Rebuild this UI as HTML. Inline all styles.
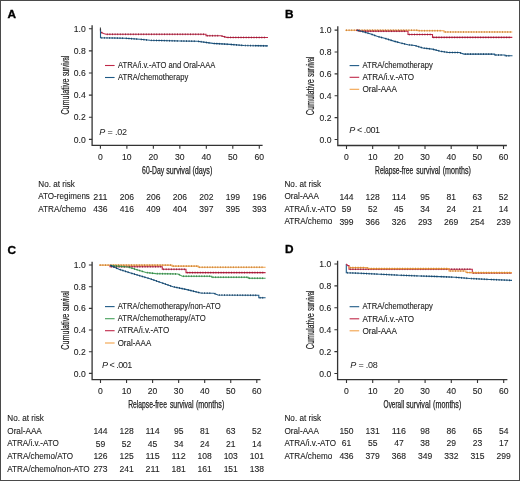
<!DOCTYPE html>
<html><head><meta charset="utf-8"><style>
html,body{margin:0;padding:0;background:#fff;}
#w{position:relative;width:520px;height:481px;overflow:hidden;background:#fff;}
svg{position:absolute;left:0;top:0;font-family:"Liberation Sans", sans-serif;will-change:transform;}
</style></head><body><div id="w">
<svg width="520" height="481" viewBox="0 0 520 481">
<rect x="0.5" y="0.5" width="519" height="480" fill="#fff" stroke="#4a4a4a" stroke-width="1"/>
<text x="7.6" y="17.6" font-size="11.8" font-weight="bold" fill="#000" stroke="#000" stroke-width="0.35">A</text>
<path d="M92.1,25.2 V145.4 H262.6" fill="none" stroke="#333" stroke-width="1.3"/>
<text x="85.8" y="142.50" font-size="8.6" text-anchor="end" fill="#222" stroke="#222" stroke-width="0.1">0.0</text>
<text x="85.8" y="120.37" font-size="8.6" text-anchor="end" fill="#222" stroke="#222" stroke-width="0.1">0.2</text>
<text x="85.8" y="98.24" font-size="8.6" text-anchor="end" fill="#222" stroke="#222" stroke-width="0.1">0.4</text>
<text x="85.8" y="76.11" font-size="8.6" text-anchor="end" fill="#222" stroke="#222" stroke-width="0.1">0.6</text>
<text x="85.8" y="53.98" font-size="8.6" text-anchor="end" fill="#222" stroke="#222" stroke-width="0.1">0.8</text>
<text x="85.8" y="31.85" font-size="8.6" text-anchor="end" fill="#222" stroke="#222" stroke-width="0.1">1.0</text>
<text x="100.40" y="159.5" font-size="8.6" text-anchor="middle" fill="#222" stroke="#222" stroke-width="0.1">0</text>
<text x="126.88" y="159.5" font-size="8.6" text-anchor="middle" fill="#222" stroke="#222" stroke-width="0.1">10</text>
<text x="153.36" y="159.5" font-size="8.6" text-anchor="middle" fill="#222" stroke="#222" stroke-width="0.1">20</text>
<text x="179.84" y="159.5" font-size="8.6" text-anchor="middle" fill="#222" stroke="#222" stroke-width="0.1">30</text>
<text x="206.32" y="159.5" font-size="8.6" text-anchor="middle" fill="#222" stroke="#222" stroke-width="0.1">40</text>
<text x="232.80" y="159.5" font-size="8.6" text-anchor="middle" fill="#222" stroke="#222" stroke-width="0.1">50</text>
<text x="259.28" y="159.5" font-size="8.6" text-anchor="middle" fill="#222" stroke="#222" stroke-width="0.1">60</text>
<path d="M88.89999999999999,139.40H92.1M88.89999999999999,117.27H92.1M88.89999999999999,95.14H92.1M88.89999999999999,73.01H92.1M88.89999999999999,50.88H92.1M88.89999999999999,28.75H92.1M100.40,145.4V148.8M126.88,145.4V148.8M153.36,145.4V148.8M179.84,145.4V148.8M206.32,145.4V148.8M232.80,145.4V148.8M259.28,145.4V148.8" stroke="#333" stroke-width="1.1" fill="none"/>
<g transform="translate(68.9,84.08) rotate(-90)"><text x="-30.5" y="0" font-size="10.3" textLength="36" lengthAdjust="spacingAndGlyphs" fill="#222" stroke="#222" stroke-width="0.2">Cumulative</text><text x="8.1" y="0" font-size="10.3" textLength="20" lengthAdjust="spacingAndGlyphs" fill="#222" stroke="#222" stroke-width="0.2">survival</text></g>
<text x="142.1" y="174.0" font-size="10.2" textLength="22.0" lengthAdjust="spacingAndGlyphs" fill="#222" stroke="#222" stroke-width="0.25">60-Day</text>
<text x="166.2" y="174.0" font-size="10.2" textLength="24.3" lengthAdjust="spacingAndGlyphs" fill="#222" stroke="#222" stroke-width="0.25">survival</text>
<text x="192.4" y="174.0" font-size="10.2" textLength="19.9" lengthAdjust="spacingAndGlyphs" fill="#222" stroke="#222" stroke-width="0.25">(days)</text>
<text x="99.3" y="134.5" font-size="9" fill="#222" textLength="27.8" lengthAdjust="spacing"><tspan font-style="italic">P</tspan> = .02</text>
<path d="M100.50,29.00 L100.50,32.00 L103.50,33.50 L106.00,34.30 L206.00,34.30 L206.00,35.70 L220.70,35.70 L226.70,37.40 L268.00,37.50" fill="none" stroke="#c02848" stroke-width="1.1"/>
<path d="M101.80,31.75v1.80M107.30,33.40v1.80M109.90,33.40v1.80M112.50,33.40v1.80M115.10,33.40v1.80M117.70,33.40v1.80M120.30,33.40v1.80M122.90,33.40v1.80M125.50,33.40v1.80M128.10,33.40v1.80M130.70,33.40v1.80M133.30,33.40v1.80M135.90,33.40v1.80M138.50,33.40v1.80M141.10,33.40v1.80M143.70,33.40v1.80M146.30,33.40v1.80M148.90,33.40v1.80M151.50,33.40v1.80M154.10,33.40v1.80M156.70,33.40v1.80M159.30,33.40v1.80M161.90,33.40v1.80M164.50,33.40v1.80M167.10,33.40v1.80M169.70,33.40v1.80M172.30,33.40v1.80M174.90,33.40v1.80M177.50,33.40v1.80M180.10,33.40v1.80M182.70,33.40v1.80M185.30,33.40v1.80M187.90,33.40v1.80M190.50,33.40v1.80M193.10,33.40v1.80M195.70,33.40v1.80M198.30,33.40v1.80M200.90,33.40v1.80M203.50,33.40v1.80M207.30,34.80v1.80M209.90,34.80v1.80M212.50,34.80v1.80M215.10,34.80v1.80M217.70,34.80v1.80M222.00,35.17v1.80M224.60,35.91v1.80M228.00,36.50v1.80M230.60,36.51v1.80M233.20,36.52v1.80M235.80,36.52v1.80M238.40,36.53v1.80M241.00,36.53v1.80M243.60,36.54v1.80M246.20,36.55v1.80M248.80,36.55v1.80M251.40,36.56v1.80M254.00,36.57v1.80M256.60,36.57v1.80M259.20,36.58v1.80M261.80,36.58v1.80M264.40,36.59v1.80" stroke="#8a1830" stroke-width="1" fill="none" opacity="0.8"/>
<path d="M100.50,29.00 L100.50,37.80 L125.00,38.20 L140.00,39.30 L150.00,40.30 L180.00,41.00 L197.30,41.20 L212.90,43.40 L230.00,44.40 L244.00,45.50 L268.00,45.90" fill="none" stroke="#1f5a86" stroke-width="1.1"/>
<path d="M101.80,36.92v1.80M104.40,36.96v1.80M107.00,37.01v1.80M109.60,37.05v1.80M112.20,37.09v1.80M114.80,37.13v1.80M117.40,37.18v1.80M120.00,37.22v1.80M122.60,37.26v1.80M126.30,37.40v1.80M128.90,37.59v1.80M131.50,37.78v1.80M134.10,37.97v1.80M136.70,38.16v1.80M141.30,38.53v1.80M143.90,38.79v1.80M146.50,39.05v1.80M151.30,39.43v1.80M153.90,39.49v1.80M156.50,39.55v1.80M159.10,39.61v1.80M161.70,39.67v1.80M164.30,39.73v1.80M166.90,39.79v1.80M169.50,39.85v1.80M172.10,39.92v1.80M174.70,39.98v1.80M177.30,40.04v1.80M181.30,40.12v1.80M183.90,40.15v1.80M186.50,40.18v1.80M189.10,40.21v1.80M191.70,40.24v1.80M194.30,40.27v1.80M198.60,40.48v1.80M201.20,40.85v1.80M203.80,41.22v1.80M206.40,41.58v1.80M209.00,41.95v1.80M214.20,42.58v1.80M216.80,42.73v1.80M219.40,42.88v1.80M222.00,43.03v1.80M224.60,43.18v1.80M227.20,43.34v1.80M231.30,43.60v1.80M233.90,43.81v1.80M236.50,44.01v1.80M239.10,44.22v1.80M241.70,44.42v1.80M245.30,44.62v1.80M247.90,44.66v1.80M250.50,44.71v1.80M253.10,44.75v1.80M255.70,44.80v1.80M258.30,44.84v1.80M260.90,44.88v1.80M263.50,44.92v1.80M266.10,44.97v1.80" stroke="#123a5a" stroke-width="1" fill="none" opacity="0.8"/>
<path d="M100.4,27.5v3" stroke="#333" stroke-width="1"/>
<path d="M105,65.5h9.6" stroke="#c02848" stroke-width="1.1"/>
<text x="118" y="68.2" font-size="8.2" textLength="97.3" lengthAdjust="spacingAndGlyphs" fill="#222" stroke="#222" stroke-width="0.1">ATRA/i.v.-ATO and Oral-AAA</text>
<path d="M105,77.5h9.6" stroke="#1f5a86" stroke-width="1.1"/>
<text x="118" y="80.2" font-size="8.2" textLength="70.2" lengthAdjust="spacingAndGlyphs" fill="#222" stroke="#222" stroke-width="0.1">ATRA/chemotherapy</text>
<text x="38.3" y="186.7" font-size="8.2" textLength="36.6" lengthAdjust="spacingAndGlyphs" fill="#222" stroke="#222" stroke-width="0.1">No. at risk</text>
<text x="38.3" y="199.35" font-size="8.2" textLength="51.6" lengthAdjust="spacingAndGlyphs" fill="#222" stroke="#222" stroke-width="0.1">ATO-regimens</text>
<text x="100.40" y="199.75" font-size="8.6" text-anchor="middle" textLength="14.25" lengthAdjust="spacingAndGlyphs" fill="#222" stroke="#222" stroke-width="0.1">211</text>
<text x="126.88" y="199.75" font-size="8.6" text-anchor="middle" textLength="14.25" lengthAdjust="spacingAndGlyphs" fill="#222" stroke="#222" stroke-width="0.1">206</text>
<text x="153.36" y="199.75" font-size="8.6" text-anchor="middle" textLength="14.25" lengthAdjust="spacingAndGlyphs" fill="#222" stroke="#222" stroke-width="0.1">206</text>
<text x="179.84" y="199.75" font-size="8.6" text-anchor="middle" textLength="14.25" lengthAdjust="spacingAndGlyphs" fill="#222" stroke="#222" stroke-width="0.1">206</text>
<text x="206.32" y="199.75" font-size="8.6" text-anchor="middle" textLength="14.25" lengthAdjust="spacingAndGlyphs" fill="#222" stroke="#222" stroke-width="0.1">202</text>
<text x="232.80" y="199.75" font-size="8.6" text-anchor="middle" textLength="14.25" lengthAdjust="spacingAndGlyphs" fill="#222" stroke="#222" stroke-width="0.1">199</text>
<text x="259.28" y="199.75" font-size="8.6" text-anchor="middle" textLength="14.25" lengthAdjust="spacingAndGlyphs" fill="#222" stroke="#222" stroke-width="0.1">196</text>
<text x="38.3" y="212.00" font-size="8.2" textLength="47.8" lengthAdjust="spacingAndGlyphs" fill="#222" stroke="#222" stroke-width="0.1">ATRA/chemo</text>
<text x="100.40" y="212.40" font-size="8.6" text-anchor="middle" textLength="14.25" lengthAdjust="spacingAndGlyphs" fill="#222" stroke="#222" stroke-width="0.1">436</text>
<text x="126.88" y="212.40" font-size="8.6" text-anchor="middle" textLength="14.25" lengthAdjust="spacingAndGlyphs" fill="#222" stroke="#222" stroke-width="0.1">416</text>
<text x="153.36" y="212.40" font-size="8.6" text-anchor="middle" textLength="14.25" lengthAdjust="spacingAndGlyphs" fill="#222" stroke="#222" stroke-width="0.1">409</text>
<text x="179.84" y="212.40" font-size="8.6" text-anchor="middle" textLength="14.25" lengthAdjust="spacingAndGlyphs" fill="#222" stroke="#222" stroke-width="0.1">404</text>
<text x="206.32" y="212.40" font-size="8.6" text-anchor="middle" textLength="14.25" lengthAdjust="spacingAndGlyphs" fill="#222" stroke="#222" stroke-width="0.1">397</text>
<text x="232.80" y="212.40" font-size="8.6" text-anchor="middle" textLength="14.25" lengthAdjust="spacingAndGlyphs" fill="#222" stroke="#222" stroke-width="0.1">395</text>
<text x="259.28" y="212.40" font-size="8.6" text-anchor="middle" textLength="14.25" lengthAdjust="spacingAndGlyphs" fill="#222" stroke="#222" stroke-width="0.1">393</text>
<text x="285.0" y="17.7" font-size="11.8" font-weight="bold" fill="#000" stroke="#000" stroke-width="0.35">B</text>
<path d="M337.8,26.3 V145.5 H506.9" fill="none" stroke="#333" stroke-width="1.3"/>
<text x="331.5" y="142.60" font-size="8.6" text-anchor="end" fill="#222" stroke="#222" stroke-width="0.1">0.0</text>
<text x="331.5" y="120.72" font-size="8.6" text-anchor="end" fill="#222" stroke="#222" stroke-width="0.1">0.2</text>
<text x="331.5" y="98.84" font-size="8.6" text-anchor="end" fill="#222" stroke="#222" stroke-width="0.1">0.4</text>
<text x="331.5" y="76.96" font-size="8.6" text-anchor="end" fill="#222" stroke="#222" stroke-width="0.1">0.6</text>
<text x="331.5" y="55.08" font-size="8.6" text-anchor="end" fill="#222" stroke="#222" stroke-width="0.1">0.8</text>
<text x="331.5" y="33.20" font-size="8.6" text-anchor="end" fill="#222" stroke="#222" stroke-width="0.1">1.0</text>
<text x="346.50" y="159.5" font-size="8.6" text-anchor="middle" fill="#222" stroke="#222" stroke-width="0.1">0</text>
<text x="372.67" y="159.5" font-size="8.6" text-anchor="middle" fill="#222" stroke="#222" stroke-width="0.1">10</text>
<text x="398.84" y="159.5" font-size="8.6" text-anchor="middle" fill="#222" stroke="#222" stroke-width="0.1">20</text>
<text x="425.01" y="159.5" font-size="8.6" text-anchor="middle" fill="#222" stroke="#222" stroke-width="0.1">30</text>
<text x="451.18" y="159.5" font-size="8.6" text-anchor="middle" fill="#222" stroke="#222" stroke-width="0.1">40</text>
<text x="477.35" y="159.5" font-size="8.6" text-anchor="middle" fill="#222" stroke="#222" stroke-width="0.1">50</text>
<text x="503.52" y="159.5" font-size="8.6" text-anchor="middle" fill="#222" stroke="#222" stroke-width="0.1">60</text>
<path d="M334.6,139.50H337.8M334.6,117.62H337.8M334.6,95.74H337.8M334.6,73.86H337.8M334.6,51.98H337.8M334.6,30.10H337.8M346.50,145.5V148.9M372.67,145.5V148.9M398.84,145.5V148.9M425.01,145.5V148.9M451.18,145.5V148.9M477.35,145.5V148.9M503.52,145.5V148.9" stroke="#333" stroke-width="1.1" fill="none"/>
<g transform="translate(314.4,84.80) rotate(-90)"><text x="-30.5" y="0" font-size="10.3" textLength="36" lengthAdjust="spacingAndGlyphs" fill="#222" stroke="#222" stroke-width="0.2">Cumulative</text><text x="8.1" y="0" font-size="10.3" textLength="20" lengthAdjust="spacingAndGlyphs" fill="#222" stroke="#222" stroke-width="0.2">survival</text></g>
<text x="375.1" y="173.9" font-size="10.2" textLength="38.0" lengthAdjust="spacingAndGlyphs" fill="#222" stroke="#222" stroke-width="0.25">Relapse-free</text>
<text x="416.3" y="173.9" font-size="10.2" textLength="23.9" lengthAdjust="spacingAndGlyphs" fill="#222" stroke="#222" stroke-width="0.25">survival</text>
<text x="442.7" y="173.9" font-size="10.2" textLength="28.2" lengthAdjust="spacingAndGlyphs" fill="#222" stroke="#222" stroke-width="0.25">(months)</text>
<text x="349.2" y="133.0" font-size="9" fill="#222" textLength="30.9" lengthAdjust="spacing"><tspan font-style="italic">P</tspan> &lt; .001</text>
<path d="M345.20,30.20 L418.00,30.20 L418.00,30.70 L444.00,30.70 L444.00,32.00 L512.30,32.00" fill="none" stroke="#f2a24a" stroke-width="1.1"/>
<path d="M346.50,29.30v1.80M349.10,29.30v1.80M351.70,29.30v1.80M354.30,29.30v1.80M356.90,29.30v1.80M359.50,29.30v1.80M362.10,29.30v1.80M364.70,29.30v1.80M367.30,29.30v1.80M369.90,29.30v1.80M372.50,29.30v1.80M375.10,29.30v1.80M377.70,29.30v1.80M380.30,29.30v1.80M382.90,29.30v1.80M385.50,29.30v1.80M388.10,29.30v1.80M390.70,29.30v1.80M393.30,29.30v1.80M395.90,29.30v1.80M398.50,29.30v1.80M401.10,29.30v1.80M403.70,29.30v1.80M406.30,29.30v1.80M408.90,29.30v1.80M411.50,29.30v1.80M414.10,29.30v1.80M416.70,29.30v1.80M419.30,29.80v1.80M421.90,29.80v1.80M424.50,29.80v1.80M427.10,29.80v1.80M429.70,29.80v1.80M432.30,29.80v1.80M434.90,29.80v1.80M437.50,29.80v1.80M440.10,29.80v1.80M445.30,31.10v1.80M447.90,31.10v1.80M450.50,31.10v1.80M453.10,31.10v1.80M455.70,31.10v1.80M458.30,31.10v1.80M460.90,31.10v1.80M463.50,31.10v1.80M466.10,31.10v1.80M468.70,31.10v1.80M471.30,31.10v1.80M473.90,31.10v1.80M476.50,31.10v1.80M479.10,31.10v1.80M481.70,31.10v1.80M484.30,31.10v1.80M486.90,31.10v1.80M489.50,31.10v1.80M492.10,31.10v1.80M494.70,31.10v1.80M497.30,31.10v1.80M499.90,31.10v1.80M502.50,31.10v1.80M505.10,31.10v1.80M507.70,31.10v1.80M510.30,31.10v1.80" stroke="#c07a30" stroke-width="1" fill="none" opacity="0.8"/>
<path d="M356.00,30.40 L359.00,30.40 L359.00,31.20 L408.00,31.20 L408.00,34.50 L432.50,34.50 L432.50,37.40 L512.30,37.40" fill="none" stroke="#c02848" stroke-width="1.1"/>
<path d="M357.30,29.50v1.80M360.30,30.30v1.80M362.90,30.30v1.80M365.50,30.30v1.80M368.10,30.30v1.80M370.70,30.30v1.80M373.30,30.30v1.80M375.90,30.30v1.80M378.50,30.30v1.80M381.10,30.30v1.80M383.70,30.30v1.80M386.30,30.30v1.80M388.90,30.30v1.80M391.50,30.30v1.80M394.10,30.30v1.80M396.70,30.30v1.80M399.30,30.30v1.80M401.90,30.30v1.80M404.50,30.30v1.80M409.30,33.60v1.80M411.90,33.60v1.80M414.50,33.60v1.80M417.10,33.60v1.80M419.70,33.60v1.80M422.30,33.60v1.80M424.90,33.60v1.80M427.50,33.60v1.80M430.10,33.60v1.80M433.80,36.50v1.80M436.40,36.50v1.80M439.00,36.50v1.80M441.60,36.50v1.80M444.20,36.50v1.80M446.80,36.50v1.80M449.40,36.50v1.80M452.00,36.50v1.80M454.60,36.50v1.80M457.20,36.50v1.80M459.80,36.50v1.80M462.40,36.50v1.80M465.00,36.50v1.80M467.60,36.50v1.80M470.20,36.50v1.80M472.80,36.50v1.80M475.40,36.50v1.80M478.00,36.50v1.80M480.60,36.50v1.80M483.20,36.50v1.80M485.80,36.50v1.80M488.40,36.50v1.80M491.00,36.50v1.80M493.60,36.50v1.80M496.20,36.50v1.80M498.80,36.50v1.80M501.40,36.50v1.80M504.00,36.50v1.80M506.60,36.50v1.80M509.20,36.50v1.80" stroke="#8a1830" stroke-width="1" fill="none" opacity="0.8"/>
<path d="M357.00,30.30 L361.50,31.30 L370.80,34.00 L377.70,36.50 L384.60,38.30 L393.80,41.10 L400.70,43.00 L408.00,44.70 L414.80,45.50 L422.90,48.00 L432.30,49.10 L440.40,51.20 L448.50,52.50 L459.20,52.50 L464.00,54.10 L494.60,54.10 L494.60,55.00 L505.00,55.00 L505.00,55.80 L512.50,55.80" fill="none" stroke="#1f5a86" stroke-width="1.1"/>
<path d="M358.30,29.69v1.80M362.80,30.78v1.80M365.40,31.53v1.80M368.00,32.29v1.80M372.10,33.57v1.80M374.70,34.51v1.80M379.00,35.94v1.80M381.60,36.62v1.80M385.90,37.80v1.80M388.50,38.59v1.80M391.10,39.38v1.80M395.10,40.56v1.80M397.70,41.27v1.80M402.00,42.40v1.80M404.60,43.01v1.80M409.30,43.95v1.80M411.90,44.26v1.80M416.10,45.00v1.80M418.70,45.80v1.80M421.30,46.61v1.80M424.20,47.25v1.80M426.80,47.56v1.80M429.40,47.86v1.80M433.60,48.54v1.80M436.20,49.21v1.80M438.80,49.89v1.80M441.70,50.51v1.80M444.30,50.93v1.80M446.90,51.34v1.80M449.80,51.60v1.80M452.40,51.60v1.80M455.00,51.60v1.80M457.60,51.60v1.80M460.50,52.03v1.80M465.30,53.20v1.80M467.90,53.20v1.80M470.50,53.20v1.80M473.10,53.20v1.80M475.70,53.20v1.80M478.30,53.20v1.80M480.90,53.20v1.80M483.50,53.20v1.80M486.10,53.20v1.80M488.70,53.20v1.80M491.30,53.20v1.80M495.90,54.10v1.80M498.50,54.10v1.80M501.10,54.10v1.80M506.30,54.90v1.80M508.90,54.90v1.80" stroke="#123a5a" stroke-width="1" fill="none" opacity="0.8"/>
<path d="M349.6,65.6h9.6" stroke="#1f5a86" stroke-width="1.1"/>
<text x="362.5" y="68.3" font-size="8.2" textLength="70.2" lengthAdjust="spacingAndGlyphs" fill="#222" stroke="#222" stroke-width="0.1">ATRA/chemotherapy</text>
<path d="M349.6,77.3h9.6" stroke="#c02848" stroke-width="1.1"/>
<text x="362.5" y="80.0" font-size="8.2" textLength="51.5" lengthAdjust="spacingAndGlyphs" fill="#222" stroke="#222" stroke-width="0.1">ATRA/i.v.-ATO</text>
<path d="M349.6,89.3h9.6" stroke="#f2a24a" stroke-width="1.1"/>
<text x="362.5" y="92.0" font-size="8.2" textLength="34.5" lengthAdjust="spacingAndGlyphs" fill="#222" stroke="#222" stroke-width="0.1">Oral-AAA</text>
<text x="284.5" y="186.8" font-size="8.2" textLength="36.6" lengthAdjust="spacingAndGlyphs" fill="#222" stroke="#222" stroke-width="0.1">No. at risk</text>
<text x="284.5" y="199.30" font-size="8.2" textLength="34.5" lengthAdjust="spacingAndGlyphs" fill="#222" stroke="#222" stroke-width="0.1">Oral-AAA</text>
<text x="346.50" y="199.70" font-size="8.6" text-anchor="middle" textLength="14.25" lengthAdjust="spacingAndGlyphs" fill="#222" stroke="#222" stroke-width="0.1">144</text>
<text x="372.67" y="199.70" font-size="8.6" text-anchor="middle" textLength="14.25" lengthAdjust="spacingAndGlyphs" fill="#222" stroke="#222" stroke-width="0.1">128</text>
<text x="398.84" y="199.70" font-size="8.6" text-anchor="middle" textLength="14.25" lengthAdjust="spacingAndGlyphs" fill="#222" stroke="#222" stroke-width="0.1">114</text>
<text x="425.01" y="199.70" font-size="8.6" text-anchor="middle" textLength="9.5" lengthAdjust="spacingAndGlyphs" fill="#222" stroke="#222" stroke-width="0.1">95</text>
<text x="451.18" y="199.70" font-size="8.6" text-anchor="middle" textLength="9.5" lengthAdjust="spacingAndGlyphs" fill="#222" stroke="#222" stroke-width="0.1">81</text>
<text x="477.35" y="199.70" font-size="8.6" text-anchor="middle" textLength="9.5" lengthAdjust="spacingAndGlyphs" fill="#222" stroke="#222" stroke-width="0.1">63</text>
<text x="503.52" y="199.70" font-size="8.6" text-anchor="middle" textLength="9.5" lengthAdjust="spacingAndGlyphs" fill="#222" stroke="#222" stroke-width="0.1">52</text>
<text x="284.5" y="211.80" font-size="8.2" textLength="51.5" lengthAdjust="spacingAndGlyphs" fill="#222" stroke="#222" stroke-width="0.1">ATRA/i.v.-ATO</text>
<text x="346.50" y="212.20" font-size="8.6" text-anchor="middle" textLength="9.5" lengthAdjust="spacingAndGlyphs" fill="#222" stroke="#222" stroke-width="0.1">59</text>
<text x="372.67" y="212.20" font-size="8.6" text-anchor="middle" textLength="9.5" lengthAdjust="spacingAndGlyphs" fill="#222" stroke="#222" stroke-width="0.1">52</text>
<text x="398.84" y="212.20" font-size="8.6" text-anchor="middle" textLength="9.5" lengthAdjust="spacingAndGlyphs" fill="#222" stroke="#222" stroke-width="0.1">45</text>
<text x="425.01" y="212.20" font-size="8.6" text-anchor="middle" textLength="9.5" lengthAdjust="spacingAndGlyphs" fill="#222" stroke="#222" stroke-width="0.1">34</text>
<text x="451.18" y="212.20" font-size="8.6" text-anchor="middle" textLength="9.5" lengthAdjust="spacingAndGlyphs" fill="#222" stroke="#222" stroke-width="0.1">24</text>
<text x="477.35" y="212.20" font-size="8.6" text-anchor="middle" textLength="9.5" lengthAdjust="spacingAndGlyphs" fill="#222" stroke="#222" stroke-width="0.1">21</text>
<text x="503.52" y="212.20" font-size="8.6" text-anchor="middle" textLength="9.5" lengthAdjust="spacingAndGlyphs" fill="#222" stroke="#222" stroke-width="0.1">14</text>
<text x="284.5" y="224.30" font-size="8.2" textLength="47.8" lengthAdjust="spacingAndGlyphs" fill="#222" stroke="#222" stroke-width="0.1">ATRA/chemo</text>
<text x="346.50" y="224.70" font-size="8.6" text-anchor="middle" textLength="14.25" lengthAdjust="spacingAndGlyphs" fill="#222" stroke="#222" stroke-width="0.1">399</text>
<text x="372.67" y="224.70" font-size="8.6" text-anchor="middle" textLength="14.25" lengthAdjust="spacingAndGlyphs" fill="#222" stroke="#222" stroke-width="0.1">366</text>
<text x="398.84" y="224.70" font-size="8.6" text-anchor="middle" textLength="14.25" lengthAdjust="spacingAndGlyphs" fill="#222" stroke="#222" stroke-width="0.1">326</text>
<text x="425.01" y="224.70" font-size="8.6" text-anchor="middle" textLength="14.25" lengthAdjust="spacingAndGlyphs" fill="#222" stroke="#222" stroke-width="0.1">293</text>
<text x="451.18" y="224.70" font-size="8.6" text-anchor="middle" textLength="14.25" lengthAdjust="spacingAndGlyphs" fill="#222" stroke="#222" stroke-width="0.1">269</text>
<text x="477.35" y="224.70" font-size="8.6" text-anchor="middle" textLength="14.25" lengthAdjust="spacingAndGlyphs" fill="#222" stroke="#222" stroke-width="0.1">254</text>
<text x="503.52" y="224.70" font-size="8.6" text-anchor="middle" textLength="14.25" lengthAdjust="spacingAndGlyphs" fill="#222" stroke="#222" stroke-width="0.1">239</text>
<text x="7.6" y="253.9" font-size="11.8" font-weight="bold" fill="#000" stroke="#000" stroke-width="0.35">C</text>
<path d="M92.1,261.7 V379.7 H260.5" fill="none" stroke="#333" stroke-width="1.3"/>
<text x="85.8" y="376.50" font-size="8.6" text-anchor="end" fill="#222" stroke="#222" stroke-width="0.1">0.0</text>
<text x="85.8" y="354.82" font-size="8.6" text-anchor="end" fill="#222" stroke="#222" stroke-width="0.1">0.2</text>
<text x="85.8" y="333.14" font-size="8.6" text-anchor="end" fill="#222" stroke="#222" stroke-width="0.1">0.4</text>
<text x="85.8" y="311.46" font-size="8.6" text-anchor="end" fill="#222" stroke="#222" stroke-width="0.1">0.6</text>
<text x="85.8" y="289.78" font-size="8.6" text-anchor="end" fill="#222" stroke="#222" stroke-width="0.1">0.8</text>
<text x="85.8" y="268.10" font-size="8.6" text-anchor="end" fill="#222" stroke="#222" stroke-width="0.1">1.0</text>
<text x="100.50" y="393.7" font-size="8.6" text-anchor="middle" fill="#222" stroke="#222" stroke-width="0.1">0</text>
<text x="126.55" y="393.7" font-size="8.6" text-anchor="middle" fill="#222" stroke="#222" stroke-width="0.1">10</text>
<text x="152.60" y="393.7" font-size="8.6" text-anchor="middle" fill="#222" stroke="#222" stroke-width="0.1">20</text>
<text x="178.65" y="393.7" font-size="8.6" text-anchor="middle" fill="#222" stroke="#222" stroke-width="0.1">30</text>
<text x="204.70" y="393.7" font-size="8.6" text-anchor="middle" fill="#222" stroke="#222" stroke-width="0.1">40</text>
<text x="230.75" y="393.7" font-size="8.6" text-anchor="middle" fill="#222" stroke="#222" stroke-width="0.1">50</text>
<text x="256.80" y="393.7" font-size="8.6" text-anchor="middle" fill="#222" stroke="#222" stroke-width="0.1">60</text>
<path d="M88.89999999999999,373.40H92.1M88.89999999999999,351.72H92.1M88.89999999999999,330.04H92.1M88.89999999999999,308.36H92.1M88.89999999999999,286.68H92.1M88.89999999999999,265.00H92.1M100.50,379.7V383.09999999999997M126.55,379.7V383.09999999999997M152.60,379.7V383.09999999999997M178.65,379.7V383.09999999999997M204.70,379.7V383.09999999999997M230.75,379.7V383.09999999999997M256.80,379.7V383.09999999999997" stroke="#333" stroke-width="1.1" fill="none"/>
<g transform="translate(69.0,319.20) rotate(-90)"><text x="-30.5" y="0" font-size="10.3" textLength="36" lengthAdjust="spacingAndGlyphs" fill="#222" stroke="#222" stroke-width="0.2">Cumulative</text><text x="8.1" y="0" font-size="10.3" textLength="20" lengthAdjust="spacingAndGlyphs" fill="#222" stroke="#222" stroke-width="0.2">survival</text></g>
<text x="128.2" y="408.0" font-size="10.2" textLength="38.7" lengthAdjust="spacingAndGlyphs" fill="#222" stroke="#222" stroke-width="0.25">Relapse-free</text>
<text x="169.9" y="408.0" font-size="10.2" textLength="23.6" lengthAdjust="spacingAndGlyphs" fill="#222" stroke="#222" stroke-width="0.25">survival</text>
<text x="195.9" y="408.0" font-size="10.2" textLength="28.4" lengthAdjust="spacingAndGlyphs" fill="#222" stroke="#222" stroke-width="0.25">(months)</text>
<text x="101.9" y="368.3" font-size="9" fill="#222" textLength="30.4" lengthAdjust="spacing"><tspan font-style="italic">P</tspan> &lt; .001</text>
<path d="M99.00,265.10 L172.00,265.10 L172.00,266.10 L198.30,266.10 L198.30,267.20 L265.60,267.20" fill="none" stroke="#f2a24a" stroke-width="1.1"/>
<path d="M100.30,264.20v1.80M102.90,264.20v1.80M105.50,264.20v1.80M108.10,264.20v1.80M110.70,264.20v1.80M113.30,264.20v1.80M115.90,264.20v1.80M118.50,264.20v1.80M121.10,264.20v1.80M123.70,264.20v1.80M126.30,264.20v1.80M128.90,264.20v1.80M131.50,264.20v1.80M134.10,264.20v1.80M136.70,264.20v1.80M139.30,264.20v1.80M141.90,264.20v1.80M144.50,264.20v1.80M147.10,264.20v1.80M149.70,264.20v1.80M152.30,264.20v1.80M154.90,264.20v1.80M157.50,264.20v1.80M160.10,264.20v1.80M162.70,264.20v1.80M165.30,264.20v1.80M167.90,264.20v1.80M170.50,264.20v1.80M173.30,265.20v1.80M175.90,265.20v1.80M178.50,265.20v1.80M181.10,265.20v1.80M183.70,265.20v1.80M186.30,265.20v1.80M188.90,265.20v1.80M191.50,265.20v1.80M194.10,265.20v1.80M196.70,265.20v1.80M199.60,266.30v1.80M202.20,266.30v1.80M204.80,266.30v1.80M207.40,266.30v1.80M210.00,266.30v1.80M212.60,266.30v1.80M215.20,266.30v1.80M217.80,266.30v1.80M220.40,266.30v1.80M223.00,266.30v1.80M225.60,266.30v1.80M228.20,266.30v1.80M230.80,266.30v1.80M233.40,266.30v1.80M236.00,266.30v1.80M238.60,266.30v1.80M241.20,266.30v1.80M243.80,266.30v1.80M246.40,266.30v1.80M249.00,266.30v1.80M251.60,266.30v1.80M254.20,266.30v1.80M256.80,266.30v1.80M259.40,266.30v1.80M262.00,266.30v1.80" stroke="#c07a30" stroke-width="1" fill="none" opacity="0.8"/>
<path d="M110.00,265.50 L110.00,266.70 L162.30,266.70 L162.30,269.30 L186.00,269.30 L186.00,272.60 L265.60,272.60" fill="none" stroke="#c02848" stroke-width="1.1"/>
<path d="M111.30,265.80v1.80M113.90,265.80v1.80M116.50,265.80v1.80M119.10,265.80v1.80M121.70,265.80v1.80M124.30,265.80v1.80M126.90,265.80v1.80M129.50,265.80v1.80M132.10,265.80v1.80M134.70,265.80v1.80M137.30,265.80v1.80M139.90,265.80v1.80M142.50,265.80v1.80M145.10,265.80v1.80M147.70,265.80v1.80M150.30,265.80v1.80M152.90,265.80v1.80M155.50,265.80v1.80M158.10,265.80v1.80M160.70,265.80v1.80M163.60,268.40v1.80M166.20,268.40v1.80M168.80,268.40v1.80M171.40,268.40v1.80M174.00,268.40v1.80M176.60,268.40v1.80M179.20,268.40v1.80M181.80,268.40v1.80M184.40,268.40v1.80M187.30,271.70v1.80M189.90,271.70v1.80M192.50,271.70v1.80M195.10,271.70v1.80M197.70,271.70v1.80M200.30,271.70v1.80M202.90,271.70v1.80M205.50,271.70v1.80M208.10,271.70v1.80M210.70,271.70v1.80M213.30,271.70v1.80M215.90,271.70v1.80M218.50,271.70v1.80M221.10,271.70v1.80M223.70,271.70v1.80M226.30,271.70v1.80M228.90,271.70v1.80M231.50,271.70v1.80M234.10,271.70v1.80M236.70,271.70v1.80M239.30,271.70v1.80M241.90,271.70v1.80M244.50,271.70v1.80M247.10,271.70v1.80M249.70,271.70v1.80M252.30,271.70v1.80M254.90,271.70v1.80M257.50,271.70v1.80M260.10,271.70v1.80M262.70,271.70v1.80" stroke="#8a1830" stroke-width="1" fill="none" opacity="0.8"/>
<path d="M110.00,265.50 L128.00,267.00 L146.00,272.50 L156.00,273.60 L178.00,274.00 L182.30,276.20 L211.70,276.20 L211.70,277.20 L248.30,277.20 L248.30,278.20 L265.60,278.20" fill="none" stroke="#45a05a" stroke-width="1.1"/>
<path d="M111.30,264.71v1.80M113.90,264.93v1.80M116.50,265.14v1.80M119.10,265.36v1.80M121.70,265.58v1.80M124.30,265.79v1.80M129.30,266.50v1.80M131.90,267.29v1.80M134.50,268.09v1.80M137.10,268.88v1.80M139.70,269.68v1.80M142.30,270.47v1.80M147.30,271.74v1.80M149.90,272.03v1.80M152.50,272.32v1.80M157.30,272.72v1.80M159.90,272.77v1.80M162.50,272.82v1.80M165.10,272.87v1.80M167.70,272.91v1.80M170.30,272.96v1.80M172.90,273.01v1.80M175.50,273.05v1.80M179.30,273.77v1.80M183.60,275.30v1.80M186.20,275.30v1.80M188.80,275.30v1.80M191.40,275.30v1.80M194.00,275.30v1.80M196.60,275.30v1.80M199.20,275.30v1.80M201.80,275.30v1.80M204.40,275.30v1.80M207.00,275.30v1.80M209.60,275.30v1.80M213.00,276.30v1.80M215.60,276.30v1.80M218.20,276.30v1.80M220.80,276.30v1.80M223.40,276.30v1.80M226.00,276.30v1.80M228.60,276.30v1.80M231.20,276.30v1.80M233.80,276.30v1.80M236.40,276.30v1.80M239.00,276.30v1.80M241.60,276.30v1.80M244.20,276.30v1.80M246.80,276.30v1.80M249.60,277.30v1.80M252.20,277.30v1.80M254.80,277.30v1.80M257.40,277.30v1.80M260.00,277.30v1.80M262.60,277.30v1.80" stroke="#2a7a3a" stroke-width="1" fill="none" opacity="0.8"/>
<path d="M110.00,265.30 L119.00,269.30 L130.60,273.00 L146.70,277.80 L150.00,278.70 L161.50,282.70 L173.00,286.70 L187.00,289.60 L200.70,293.00 L213.70,293.20 L218.00,295.00 L258.80,295.30 L258.80,297.80 L265.60,297.80" fill="none" stroke="#1f5a86" stroke-width="1.1"/>
<path d="M111.30,264.98v1.80M113.90,266.13v1.80M116.50,267.29v1.80M120.30,268.81v1.80M122.90,269.64v1.80M125.50,270.47v1.80M128.10,271.30v1.80M131.90,272.49v1.80M134.50,273.26v1.80M137.10,274.04v1.80M139.70,274.81v1.80M142.30,275.59v1.80M144.90,276.36v1.80M148.00,277.25v1.80M151.30,278.25v1.80M153.90,279.16v1.80M156.50,280.06v1.80M159.10,280.97v1.80M162.80,282.25v1.80M165.40,283.16v1.80M168.00,284.06v1.80M170.60,284.97v1.80M174.30,286.07v1.80M176.90,286.61v1.80M179.50,287.15v1.80M182.10,287.69v1.80M184.70,288.22v1.80M188.30,289.02v1.80M190.90,289.67v1.80M193.50,290.31v1.80M196.10,290.96v1.80M198.70,291.60v1.80M202.00,292.12v1.80M204.60,292.16v1.80M207.20,292.20v1.80M209.80,292.24v1.80M215.00,292.84v1.80M219.30,294.11v1.80M221.90,294.13v1.80M224.50,294.15v1.80M227.10,294.17v1.80M229.70,294.19v1.80M232.30,294.21v1.80M234.90,294.22v1.80M237.50,294.24v1.80M240.10,294.26v1.80M242.70,294.28v1.80M245.30,294.30v1.80M247.90,294.32v1.80M250.50,294.34v1.80M253.10,294.36v1.80M255.70,294.38v1.80M260.10,296.90v1.80M262.70,296.90v1.80" stroke="#123a5a" stroke-width="1" fill="none" opacity="0.8"/>
<path d="M105,306.6h9.6" stroke="#1f5a86" stroke-width="1.1"/>
<text x="117.7" y="309.3" font-size="8.2" textLength="103.0" lengthAdjust="spacingAndGlyphs" fill="#222" stroke="#222" stroke-width="0.1">ATRA/chemotherapy/non-ATO</text>
<path d="M105,318.7h9.6" stroke="#45a05a" stroke-width="1.1"/>
<text x="117.7" y="321.4" font-size="8.2" textLength="88.0" lengthAdjust="spacingAndGlyphs" fill="#222" stroke="#222" stroke-width="0.1">ATRA/chemotherapy/ATO</text>
<path d="M105,330.7h9.6" stroke="#c02848" stroke-width="1.1"/>
<text x="117.7" y="333.4" font-size="8.2" textLength="51.5" lengthAdjust="spacingAndGlyphs" fill="#222" stroke="#222" stroke-width="0.1">ATRA/i.v.-ATO</text>
<path d="M105,343.0h9.6" stroke="#f2a24a" stroke-width="1.1"/>
<text x="117.7" y="345.7" font-size="8.2" textLength="33.5" lengthAdjust="spacingAndGlyphs" fill="#222" stroke="#222" stroke-width="0.1">Oral-AAA</text>
<text x="7.3" y="421.0" font-size="8.2" textLength="36.6" lengthAdjust="spacingAndGlyphs" fill="#222" stroke="#222" stroke-width="0.1">No. at risk</text>
<text x="7.3" y="433.65" font-size="8.2" textLength="34.5" lengthAdjust="spacingAndGlyphs" fill="#222" stroke="#222" stroke-width="0.1">Oral-AAA</text>
<text x="100.50" y="434.05" font-size="8.6" text-anchor="middle" textLength="14.25" lengthAdjust="spacingAndGlyphs" fill="#222" stroke="#222" stroke-width="0.1">144</text>
<text x="126.55" y="434.05" font-size="8.6" text-anchor="middle" textLength="14.25" lengthAdjust="spacingAndGlyphs" fill="#222" stroke="#222" stroke-width="0.1">128</text>
<text x="152.60" y="434.05" font-size="8.6" text-anchor="middle" textLength="14.25" lengthAdjust="spacingAndGlyphs" fill="#222" stroke="#222" stroke-width="0.1">114</text>
<text x="178.65" y="434.05" font-size="8.6" text-anchor="middle" textLength="9.5" lengthAdjust="spacingAndGlyphs" fill="#222" stroke="#222" stroke-width="0.1">95</text>
<text x="204.70" y="434.05" font-size="8.6" text-anchor="middle" textLength="9.5" lengthAdjust="spacingAndGlyphs" fill="#222" stroke="#222" stroke-width="0.1">81</text>
<text x="230.75" y="434.05" font-size="8.6" text-anchor="middle" textLength="9.5" lengthAdjust="spacingAndGlyphs" fill="#222" stroke="#222" stroke-width="0.1">63</text>
<text x="256.80" y="434.05" font-size="8.6" text-anchor="middle" textLength="9.5" lengthAdjust="spacingAndGlyphs" fill="#222" stroke="#222" stroke-width="0.1">52</text>
<text x="7.3" y="446.30" font-size="8.2" textLength="51.5" lengthAdjust="spacingAndGlyphs" fill="#222" stroke="#222" stroke-width="0.1">ATRA/i.v.-ATO</text>
<text x="100.50" y="446.70" font-size="8.6" text-anchor="middle" textLength="9.5" lengthAdjust="spacingAndGlyphs" fill="#222" stroke="#222" stroke-width="0.1">59</text>
<text x="126.55" y="446.70" font-size="8.6" text-anchor="middle" textLength="9.5" lengthAdjust="spacingAndGlyphs" fill="#222" stroke="#222" stroke-width="0.1">52</text>
<text x="152.60" y="446.70" font-size="8.6" text-anchor="middle" textLength="9.5" lengthAdjust="spacingAndGlyphs" fill="#222" stroke="#222" stroke-width="0.1">45</text>
<text x="178.65" y="446.70" font-size="8.6" text-anchor="middle" textLength="9.5" lengthAdjust="spacingAndGlyphs" fill="#222" stroke="#222" stroke-width="0.1">34</text>
<text x="204.70" y="446.70" font-size="8.6" text-anchor="middle" textLength="9.5" lengthAdjust="spacingAndGlyphs" fill="#222" stroke="#222" stroke-width="0.1">24</text>
<text x="230.75" y="446.70" font-size="8.6" text-anchor="middle" textLength="9.5" lengthAdjust="spacingAndGlyphs" fill="#222" stroke="#222" stroke-width="0.1">21</text>
<text x="256.80" y="446.70" font-size="8.6" text-anchor="middle" textLength="9.5" lengthAdjust="spacingAndGlyphs" fill="#222" stroke="#222" stroke-width="0.1">14</text>
<text x="7.3" y="458.95" font-size="8.2" textLength="65.8" lengthAdjust="spacingAndGlyphs" fill="#222" stroke="#222" stroke-width="0.1">ATRA/chemo/ATO</text>
<text x="100.50" y="459.35" font-size="8.6" text-anchor="middle" textLength="14.25" lengthAdjust="spacingAndGlyphs" fill="#222" stroke="#222" stroke-width="0.1">126</text>
<text x="126.55" y="459.35" font-size="8.6" text-anchor="middle" textLength="14.25" lengthAdjust="spacingAndGlyphs" fill="#222" stroke="#222" stroke-width="0.1">125</text>
<text x="152.60" y="459.35" font-size="8.6" text-anchor="middle" textLength="14.25" lengthAdjust="spacingAndGlyphs" fill="#222" stroke="#222" stroke-width="0.1">115</text>
<text x="178.65" y="459.35" font-size="8.6" text-anchor="middle" textLength="14.25" lengthAdjust="spacingAndGlyphs" fill="#222" stroke="#222" stroke-width="0.1">112</text>
<text x="204.70" y="459.35" font-size="8.6" text-anchor="middle" textLength="14.25" lengthAdjust="spacingAndGlyphs" fill="#222" stroke="#222" stroke-width="0.1">108</text>
<text x="230.75" y="459.35" font-size="8.6" text-anchor="middle" textLength="14.25" lengthAdjust="spacingAndGlyphs" fill="#222" stroke="#222" stroke-width="0.1">103</text>
<text x="256.80" y="459.35" font-size="8.6" text-anchor="middle" textLength="14.25" lengthAdjust="spacingAndGlyphs" fill="#222" stroke="#222" stroke-width="0.1">101</text>
<text x="7.3" y="471.60" font-size="8.2" textLength="82.3" lengthAdjust="spacingAndGlyphs" fill="#222" stroke="#222" stroke-width="0.1">ATRA/chemo/non-ATO</text>
<text x="100.50" y="472.00" font-size="8.6" text-anchor="middle" textLength="14.25" lengthAdjust="spacingAndGlyphs" fill="#222" stroke="#222" stroke-width="0.1">273</text>
<text x="126.55" y="472.00" font-size="8.6" text-anchor="middle" textLength="14.25" lengthAdjust="spacingAndGlyphs" fill="#222" stroke="#222" stroke-width="0.1">241</text>
<text x="152.60" y="472.00" font-size="8.6" text-anchor="middle" textLength="14.25" lengthAdjust="spacingAndGlyphs" fill="#222" stroke="#222" stroke-width="0.1">211</text>
<text x="178.65" y="472.00" font-size="8.6" text-anchor="middle" textLength="14.25" lengthAdjust="spacingAndGlyphs" fill="#222" stroke="#222" stroke-width="0.1">181</text>
<text x="204.70" y="472.00" font-size="8.6" text-anchor="middle" textLength="14.25" lengthAdjust="spacingAndGlyphs" fill="#222" stroke="#222" stroke-width="0.1">161</text>
<text x="230.75" y="472.00" font-size="8.6" text-anchor="middle" textLength="14.25" lengthAdjust="spacingAndGlyphs" fill="#222" stroke="#222" stroke-width="0.1">151</text>
<text x="256.80" y="472.00" font-size="8.6" text-anchor="middle" textLength="14.25" lengthAdjust="spacingAndGlyphs" fill="#222" stroke="#222" stroke-width="0.1">138</text>
<text x="285.0" y="253.4" font-size="11.8" font-weight="bold" fill="#000" stroke="#000" stroke-width="0.35">D</text>
<path d="M337.6,260.7 V379.7 H507.4" fill="none" stroke="#333" stroke-width="1.3"/>
<text x="331.3" y="376.60" font-size="8.6" text-anchor="end" fill="#222" stroke="#222" stroke-width="0.1">0.0</text>
<text x="331.3" y="354.70" font-size="8.6" text-anchor="end" fill="#222" stroke="#222" stroke-width="0.1">0.2</text>
<text x="331.3" y="332.80" font-size="8.6" text-anchor="end" fill="#222" stroke="#222" stroke-width="0.1">0.4</text>
<text x="331.3" y="310.90" font-size="8.6" text-anchor="end" fill="#222" stroke="#222" stroke-width="0.1">0.6</text>
<text x="331.3" y="289.00" font-size="8.6" text-anchor="end" fill="#222" stroke="#222" stroke-width="0.1">0.8</text>
<text x="331.3" y="267.10" font-size="8.6" text-anchor="end" fill="#222" stroke="#222" stroke-width="0.1">1.0</text>
<text x="346.50" y="393.6" font-size="8.6" text-anchor="middle" fill="#222" stroke="#222" stroke-width="0.1">0</text>
<text x="372.70" y="393.6" font-size="8.6" text-anchor="middle" fill="#222" stroke="#222" stroke-width="0.1">10</text>
<text x="398.90" y="393.6" font-size="8.6" text-anchor="middle" fill="#222" stroke="#222" stroke-width="0.1">20</text>
<text x="425.10" y="393.6" font-size="8.6" text-anchor="middle" fill="#222" stroke="#222" stroke-width="0.1">30</text>
<text x="451.30" y="393.6" font-size="8.6" text-anchor="middle" fill="#222" stroke="#222" stroke-width="0.1">40</text>
<text x="477.50" y="393.6" font-size="8.6" text-anchor="middle" fill="#222" stroke="#222" stroke-width="0.1">50</text>
<text x="503.70" y="393.6" font-size="8.6" text-anchor="middle" fill="#222" stroke="#222" stroke-width="0.1">60</text>
<path d="M334.40000000000003,373.50H337.6M334.40000000000003,351.60H337.6M334.40000000000003,329.70H337.6M334.40000000000003,307.80H337.6M334.40000000000003,285.90H337.6M334.40000000000003,264.00H337.6M346.50,379.7V383.09999999999997M372.70,379.7V383.09999999999997M398.90,379.7V383.09999999999997M425.10,379.7V383.09999999999997M451.30,379.7V383.09999999999997M477.50,379.7V383.09999999999997M503.70,379.7V383.09999999999997" stroke="#333" stroke-width="1.1" fill="none"/>
<g transform="translate(314.4,318.75) rotate(-90)"><text x="-30.5" y="0" font-size="10.3" textLength="36" lengthAdjust="spacingAndGlyphs" fill="#222" stroke="#222" stroke-width="0.2">Cumulative</text><text x="8.1" y="0" font-size="10.3" textLength="20" lengthAdjust="spacingAndGlyphs" fill="#222" stroke="#222" stroke-width="0.2">survival</text></g>
<text x="383.6" y="407.9" font-size="10.2" textLength="20.5" lengthAdjust="spacingAndGlyphs" fill="#222" stroke="#222" stroke-width="0.25">Overall</text>
<text x="406.3" y="407.9" font-size="10.2" textLength="24.2" lengthAdjust="spacingAndGlyphs" fill="#222" stroke="#222" stroke-width="0.25">survival</text>
<text x="433.1" y="407.9" font-size="10.2" textLength="28.2" lengthAdjust="spacingAndGlyphs" fill="#222" stroke="#222" stroke-width="0.25">(months)</text>
<text x="350.3" y="368.3" font-size="9" fill="#222" textLength="27.5" lengthAdjust="spacing"><tspan font-style="italic">P</tspan> = .08</text>
<path d="M346.30,264.00 L346.30,272.70 L360.00,273.30 L380.00,274.20 L400.00,275.20 L420.00,276.00 L440.00,276.60 L455.00,277.30 L470.00,278.50 L490.00,279.50 L512.00,280.40" fill="none" stroke="#1f5a86" stroke-width="1.1"/>
<path d="M347.60,271.86v1.80M350.20,271.97v1.80M352.80,272.08v1.80M355.40,272.20v1.80M358.00,272.31v1.80M361.30,272.46v1.80M363.90,272.58v1.80M366.50,272.69v1.80M369.10,272.81v1.80M371.70,272.93v1.80M374.30,273.04v1.80M376.90,273.16v1.80M381.30,273.37v1.80M383.90,273.50v1.80M386.50,273.62v1.80M389.10,273.75v1.80M391.70,273.88v1.80M394.30,274.01v1.80M396.90,274.15v1.80M401.30,274.35v1.80M403.90,274.46v1.80M406.50,274.56v1.80M409.10,274.66v1.80M411.70,274.77v1.80M414.30,274.87v1.80M416.90,274.98v1.80M421.30,275.14v1.80M423.90,275.22v1.80M426.50,275.30v1.80M429.10,275.37v1.80M431.70,275.45v1.80M434.30,275.53v1.80M436.90,275.61v1.80M441.30,275.76v1.80M443.90,275.88v1.80M446.50,276.00v1.80M449.10,276.12v1.80M451.70,276.25v1.80M456.30,276.50v1.80M458.90,276.71v1.80M461.50,276.92v1.80M464.10,277.13v1.80M466.70,277.34v1.80M471.30,277.67v1.80M473.90,277.80v1.80M476.50,277.93v1.80M479.10,278.06v1.80M481.70,278.19v1.80M484.30,278.31v1.80M486.90,278.45v1.80M491.30,278.65v1.80M493.90,278.76v1.80M496.50,278.87v1.80M499.10,278.97v1.80M501.70,279.08v1.80M504.30,279.19v1.80M506.90,279.29v1.80M509.50,279.40v1.80" stroke="#123a5a" stroke-width="1" fill="none" opacity="0.8"/>
<path d="M346.30,264.00 L347.80,265.60 L349.00,265.60 L349.00,269.20 L472.30,269.20 L472.30,273.00 L512.00,273.00" fill="none" stroke="#c02848" stroke-width="1.1"/>
<path d="M350.30,268.30v1.80M352.90,268.30v1.80M355.50,268.30v1.80M358.10,268.30v1.80M360.70,268.30v1.80M363.30,268.30v1.80M365.90,268.30v1.80M368.50,268.30v1.80M371.10,268.30v1.80M373.70,268.30v1.80M376.30,268.30v1.80M378.90,268.30v1.80M381.50,268.30v1.80M384.10,268.30v1.80M386.70,268.30v1.80M389.30,268.30v1.80M391.90,268.30v1.80M394.50,268.30v1.80M397.10,268.30v1.80M399.70,268.30v1.80M402.30,268.30v1.80M404.90,268.30v1.80M407.50,268.30v1.80M410.10,268.30v1.80M412.70,268.30v1.80M415.30,268.30v1.80M417.90,268.30v1.80M420.50,268.30v1.80M423.10,268.30v1.80M425.70,268.30v1.80M428.30,268.30v1.80M430.90,268.30v1.80M433.50,268.30v1.80M436.10,268.30v1.80M438.70,268.30v1.80M441.30,268.30v1.80M443.90,268.30v1.80M446.50,268.30v1.80M449.10,268.30v1.80M451.70,268.30v1.80M454.30,268.30v1.80M456.90,268.30v1.80M459.50,268.30v1.80M462.10,268.30v1.80M464.70,268.30v1.80M467.30,268.30v1.80M469.90,268.30v1.80M473.60,272.10v1.80M476.20,272.10v1.80M478.80,272.10v1.80M481.40,272.10v1.80M484.00,272.10v1.80M486.60,272.10v1.80M489.20,272.10v1.80M491.80,272.10v1.80M494.40,272.10v1.80M497.00,272.10v1.80M499.60,272.10v1.80M502.20,272.10v1.80M504.80,272.10v1.80M507.40,272.10v1.80M510.00,272.10v1.80" stroke="#8a1830" stroke-width="1" fill="none" opacity="0.8"/>
<path d="M349.00,266.50 L349.00,267.60 L366.00,267.60 L370.00,268.60 L449.00,268.60 L449.00,271.00 L466.00,271.00 L466.00,272.40 L472.00,272.60 L512.00,272.60" fill="none" stroke="#f2a24a" stroke-width="1.1"/>
<path d="M350.30,266.70v1.80M352.90,266.70v1.80M355.50,266.70v1.80M358.10,266.70v1.80M360.70,266.70v1.80M363.30,266.70v1.80M367.30,267.03v1.80M371.30,267.70v1.80M373.90,267.70v1.80M376.50,267.70v1.80M379.10,267.70v1.80M381.70,267.70v1.80M384.30,267.70v1.80M386.90,267.70v1.80M389.50,267.70v1.80M392.10,267.70v1.80M394.70,267.70v1.80M397.30,267.70v1.80M399.90,267.70v1.80M402.50,267.70v1.80M405.10,267.70v1.80M407.70,267.70v1.80M410.30,267.70v1.80M412.90,267.70v1.80M415.50,267.70v1.80M418.10,267.70v1.80M420.70,267.70v1.80M423.30,267.70v1.80M425.90,267.70v1.80M428.50,267.70v1.80M431.10,267.70v1.80M433.70,267.70v1.80M436.30,267.70v1.80M438.90,267.70v1.80M441.50,267.70v1.80M444.10,267.70v1.80M446.70,267.70v1.80M450.30,270.10v1.80M452.90,270.10v1.80M455.50,270.10v1.80M458.10,270.10v1.80M460.70,270.10v1.80M463.30,270.10v1.80M467.30,271.54v1.80M469.90,271.63v1.80M473.30,271.70v1.80M475.90,271.70v1.80M478.50,271.70v1.80M481.10,271.70v1.80M483.70,271.70v1.80M486.30,271.70v1.80M488.90,271.70v1.80M491.50,271.70v1.80M494.10,271.70v1.80M496.70,271.70v1.80M499.30,271.70v1.80M501.90,271.70v1.80M504.50,271.70v1.80M507.10,271.70v1.80M509.70,271.70v1.80" stroke="#c07a30" stroke-width="1" fill="none" opacity="0.8"/>
<path d="M349.6,306.7h9.6" stroke="#1f5a86" stroke-width="1.1"/>
<text x="362.5" y="309.4" font-size="8.2" textLength="70.2" lengthAdjust="spacingAndGlyphs" fill="#222" stroke="#222" stroke-width="0.1">ATRA/chemotherapy</text>
<path d="M349.6,318.8h9.6" stroke="#c02848" stroke-width="1.1"/>
<text x="362.5" y="321.5" font-size="8.2" textLength="51.5" lengthAdjust="spacingAndGlyphs" fill="#222" stroke="#222" stroke-width="0.1">ATRA/i.v.-ATO</text>
<path d="M349.6,330.8h9.6" stroke="#f2a24a" stroke-width="1.1"/>
<text x="362.5" y="333.5" font-size="8.2" textLength="34.5" lengthAdjust="spacingAndGlyphs" fill="#222" stroke="#222" stroke-width="0.1">Oral-AAA</text>
<text x="284.5" y="421.0" font-size="8.2" textLength="36.6" lengthAdjust="spacingAndGlyphs" fill="#222" stroke="#222" stroke-width="0.1">No. at risk</text>
<text x="284.5" y="433.50" font-size="8.2" textLength="34.5" lengthAdjust="spacingAndGlyphs" fill="#222" stroke="#222" stroke-width="0.1">Oral-AAA</text>
<text x="346.50" y="433.90" font-size="8.6" text-anchor="middle" textLength="14.25" lengthAdjust="spacingAndGlyphs" fill="#222" stroke="#222" stroke-width="0.1">150</text>
<text x="372.70" y="433.90" font-size="8.6" text-anchor="middle" textLength="14.25" lengthAdjust="spacingAndGlyphs" fill="#222" stroke="#222" stroke-width="0.1">131</text>
<text x="398.90" y="433.90" font-size="8.6" text-anchor="middle" textLength="14.25" lengthAdjust="spacingAndGlyphs" fill="#222" stroke="#222" stroke-width="0.1">116</text>
<text x="425.10" y="433.90" font-size="8.6" text-anchor="middle" textLength="9.5" lengthAdjust="spacingAndGlyphs" fill="#222" stroke="#222" stroke-width="0.1">98</text>
<text x="451.30" y="433.90" font-size="8.6" text-anchor="middle" textLength="9.5" lengthAdjust="spacingAndGlyphs" fill="#222" stroke="#222" stroke-width="0.1">86</text>
<text x="477.50" y="433.90" font-size="8.6" text-anchor="middle" textLength="9.5" lengthAdjust="spacingAndGlyphs" fill="#222" stroke="#222" stroke-width="0.1">65</text>
<text x="503.70" y="433.90" font-size="8.6" text-anchor="middle" textLength="9.5" lengthAdjust="spacingAndGlyphs" fill="#222" stroke="#222" stroke-width="0.1">54</text>
<text x="284.5" y="446.00" font-size="8.2" textLength="51.5" lengthAdjust="spacingAndGlyphs" fill="#222" stroke="#222" stroke-width="0.1">ATRA/i.v.-ATO</text>
<text x="346.50" y="446.40" font-size="8.6" text-anchor="middle" textLength="9.5" lengthAdjust="spacingAndGlyphs" fill="#222" stroke="#222" stroke-width="0.1">61</text>
<text x="372.70" y="446.40" font-size="8.6" text-anchor="middle" textLength="9.5" lengthAdjust="spacingAndGlyphs" fill="#222" stroke="#222" stroke-width="0.1">55</text>
<text x="398.90" y="446.40" font-size="8.6" text-anchor="middle" textLength="9.5" lengthAdjust="spacingAndGlyphs" fill="#222" stroke="#222" stroke-width="0.1">47</text>
<text x="425.10" y="446.40" font-size="8.6" text-anchor="middle" textLength="9.5" lengthAdjust="spacingAndGlyphs" fill="#222" stroke="#222" stroke-width="0.1">38</text>
<text x="451.30" y="446.40" font-size="8.6" text-anchor="middle" textLength="9.5" lengthAdjust="spacingAndGlyphs" fill="#222" stroke="#222" stroke-width="0.1">29</text>
<text x="477.50" y="446.40" font-size="8.6" text-anchor="middle" textLength="9.5" lengthAdjust="spacingAndGlyphs" fill="#222" stroke="#222" stroke-width="0.1">23</text>
<text x="503.70" y="446.40" font-size="8.6" text-anchor="middle" textLength="9.5" lengthAdjust="spacingAndGlyphs" fill="#222" stroke="#222" stroke-width="0.1">17</text>
<text x="284.5" y="458.50" font-size="8.2" textLength="47.8" lengthAdjust="spacingAndGlyphs" fill="#222" stroke="#222" stroke-width="0.1">ATRA/chemo</text>
<text x="346.50" y="458.90" font-size="8.6" text-anchor="middle" textLength="14.25" lengthAdjust="spacingAndGlyphs" fill="#222" stroke="#222" stroke-width="0.1">436</text>
<text x="372.70" y="458.90" font-size="8.6" text-anchor="middle" textLength="14.25" lengthAdjust="spacingAndGlyphs" fill="#222" stroke="#222" stroke-width="0.1">379</text>
<text x="398.90" y="458.90" font-size="8.6" text-anchor="middle" textLength="14.25" lengthAdjust="spacingAndGlyphs" fill="#222" stroke="#222" stroke-width="0.1">368</text>
<text x="425.10" y="458.90" font-size="8.6" text-anchor="middle" textLength="14.25" lengthAdjust="spacingAndGlyphs" fill="#222" stroke="#222" stroke-width="0.1">349</text>
<text x="451.30" y="458.90" font-size="8.6" text-anchor="middle" textLength="14.25" lengthAdjust="spacingAndGlyphs" fill="#222" stroke="#222" stroke-width="0.1">332</text>
<text x="477.50" y="458.90" font-size="8.6" text-anchor="middle" textLength="14.25" lengthAdjust="spacingAndGlyphs" fill="#222" stroke="#222" stroke-width="0.1">315</text>
<text x="503.70" y="458.90" font-size="8.6" text-anchor="middle" textLength="14.25" lengthAdjust="spacingAndGlyphs" fill="#222" stroke="#222" stroke-width="0.1">299</text>
</svg></div></body></html>
